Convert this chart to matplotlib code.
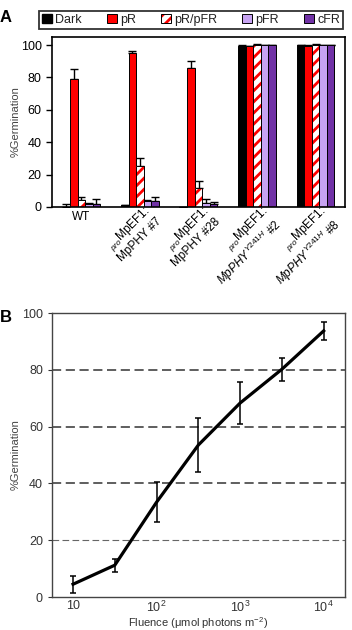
import matplotlib

matplotlib.use("Agg")
import matplotlib.pyplot as plt  # noqa: E402
import matplotlib.transforms as mtransforms  # noqa: E402
from matplotlib.patches import Patch  # noqa: E402
from matplotlib.legend_handler import HandlerTuple  # noqa: E402
import numpy as np  # noqa: E402

plt.rcParams["font.family"] = ["Liberation Sans", "DejaVu Sans"]
plt.rcParams["mathtext.fontset"] = "custom"
plt.rcParams["mathtext.rm"] = "Liberation Sans"
plt.rcParams["mathtext.it"] = "Liberation Sans:italic"
plt.rcParams["hatch.linewidth"] = 2.0

# ---- panel A data ----
genotypes = [
    "WT",
    "${}_{\\mathit{pro}}$MpEF1:\nMpPHY #7",
    "${}_{\\mathit{pro}}$MpEF1:\nMpPHY #28",
    "${}_{\\mathit{pro}}$MpEF1:\n$\\mathit{MpPHY}^{\\mathit{Y241H}}$ #2",
    "${}_{\\mathit{pro}}$MpEF1:\n$\\mathit{MpPHY}^{\\mathit{Y241H}}$ #8",
]
treatments = ["Dark", "pR", "pR/pFR", "pFR", "cFR"]
dark = [0.3, 1.2, 0.0, 99.5, 100.0]
dark_err = [1.6, 0.3, 0.0, 0.7, 0.0]
pr = [79.0, 95.2, 86.0, 99.5, 99.5]
pr_err = [6.3, 1.3, 4.3, 0.0, 0.4]
pr_pfr = [4.5, 25.5, 11.5, 100.0, 100.0]
pr_pfr_err = [1.7, 5.0, 4.7, 0.5, 0.6]
pfr = [2.0, 3.5, 2.3, 100.0, 100.0]
pfr_err = [0.5, 1.0, 2.7, 0.0, 0.0]
cfr = [2.0, 4.0, 1.8, 100.0, 100.0]
cfr_err = [2.8, 2.0, 1.5, 0.0, 0.0]

# ---- panel B data ----
fluence = [10, 31.6, 100, 316, 1000, 3162, 10000]
germ = [4.5, 11.2, 33.4, 53.5, 68.3, 80.2, 93.7]
germ_err = [3.0, 2.3, 7.0, 9.5, 7.3, 4.0, 3.1]

RED = "#ff0000"
LIGHT = "#c7a3f2"
PURPLE = "#7132a6"

fig = plt.figure(figsize=(3.52, 6.3), dpi=100)

# ================= panel A =================
axA = fig.add_axes([52 / 352, 1 - 207 / 630, 293 / 352, 170 / 630])
x = np.arange(len(genotypes))
w = 0.128
series = [(dark, dark_err), (pr, pr_err), (pr_pfr, pr_pfr_err), (pfr, pfr_err), (cfr, cfr_err)]
for k, (vals, errs) in enumerate(series):
    xs = x + (k - 2) * w
    zeros = np.zeros(len(vals))
    axA.errorbar(xs, vals, yerr=[zeros, errs], fmt="none", ecolor="black",
                 elinewidth=1.0, capsize=3, capthick=1.0, zorder=1)
    if k == 0:
        axA.bar(xs, vals, w, color="black", edgecolor="black", lw=0.7, zorder=2)
    elif k == 1:
        axA.bar(xs, vals, w, color=RED, edgecolor="black", lw=0.7, zorder=2)
    elif k == 2:
        axA.bar(xs, vals, w, color="white", edgecolor=RED, hatch="///", lw=0, zorder=2)
        axA.bar(xs, vals, w, fill=False, edgecolor="black", lw=0.7, zorder=3)
    elif k == 3:
        axA.bar(xs, vals, w, color=LIGHT, edgecolor="black", lw=0.7, zorder=2)
    else:
        axA.bar(xs, vals, w, color=PURPLE, edgecolor="black", lw=0.7, zorder=2)

axA.set_xlim(-0.5, len(genotypes) - 0.5)
axA.set_ylim(0, 105)
axA.set_yticks([0, 20, 40, 60, 80, 100])
axA.tick_params(axis="y", labelsize=9, length=4, width=1, direction="out")
axA.tick_params(axis="x", length=0, pad=3)
axA.set_xticks(x)
axA.set_xticklabels(genotypes, fontsize=8.5)
offset = mtransforms.ScaledTranslation(0.03, 0.08, fig.dpi_scale_trans)
for i, lab in enumerate(axA.get_xticklabels()):
    if i == 0:
        lab.set_rotation(0)
        lab.set_ha("center")
    else:
        lab.set_rotation(45)
        lab.set_ha("right")
        lab.set_va("top")
        lab.set_rotation_mode("anchor")
        lab.set_multialignment("right")
        lab.set_linespacing(1.1)
        lab.set_transform(lab.get_transform() + offset)
for sp in axA.spines.values():
    sp.set_linewidth(1.2)
axA.set_ylabel("%Germination", fontsize=8, color="#444444", labelpad=0)

h_hatch = (Patch(facecolor="white", edgecolor=RED, hatch="///", lw=0),
           Patch(fill=False, edgecolor="black", lw=0.7))
handles = [Patch(facecolor="black", edgecolor="black"),
           Patch(facecolor=RED, edgecolor="black", lw=0.7),
           h_hatch,
           Patch(facecolor=LIGHT, edgecolor="black", lw=0.7),
           Patch(facecolor=PURPLE, edgecolor="black", lw=0.7)]
leg = fig.legend(handles, treatments, ncol=5, mode="expand", loc="lower left",
                 bbox_to_anchor=(39 / 352, 1 - 29 / 630, 304 / 352, 19 / 630),
                 fontsize=9, handlelength=0.8, handleheight=0.8, handletextpad=0.25,
                 columnspacing=0.5, borderpad=0.25, borderaxespad=0, fancybox=False,
                 handler_map={tuple: HandlerTuple(ndivide=1, pad=0)})
leg.get_frame().set_edgecolor("black")
leg.get_frame().set_linewidth(1.3)
for t in leg.get_texts():
    t.set_color("#222222")

fig.text(0.0, 1 - 22 / 630, "A", fontsize=12, fontweight="bold", ha="left")

# ================= panel B =================
axB = fig.add_axes([52 / 352, 1 - 597 / 630, 293 / 352, 284 / 630])
for yv in [40, 60, 80]:
    axB.axhline(yv, color="#333333", lw=1.1, ls=(0, (6, 3)), zorder=0)
axB.axhline(20, color="#666666", lw=0.8, ls=(0, (6, 3)), zorder=0)
axB.errorbar(fluence, germ, yerr=germ_err, color="black", lw=2.3,
             ecolor="black", elinewidth=1.1, capsize=2.5, capthick=1.1)
axB.set_xscale("log")
axB.set_xlim(5.6, 18000)
axB.set_ylim(0, 100)
axB.set_xticks([10, 100, 1000, 10000])
axB.set_xticklabels(["10", "$10^2$", "$10^3$", "$10^4$"])
axB.xaxis.set_minor_locator(matplotlib.ticker.NullLocator())
axB.set_yticks([0, 20, 40, 60, 80, 100])
axB.tick_params(axis="both", labelsize=9, colors="#333333")
axB.tick_params(axis="x", length=0, pad=2)
axB.tick_params(axis="y", length=3, width=0.8)
for sp in axB.spines.values():
    sp.set_linewidth(1.0)
    sp.set_color("#444444")
axB.set_ylabel("%Germination", fontsize=8, color="#444444", labelpad=1)
axB.set_xlabel("Fluence (\u03bcmol photons m$^{-2}$)", fontsize=8, color="#333333")
axB.xaxis.set_label_coords(0.5, -0.063)

fig.text(0.0, 1 - 322 / 630, "B", fontsize=12, fontweight="bold", ha="left")

fig.savefig("out.png", dpi=100)
